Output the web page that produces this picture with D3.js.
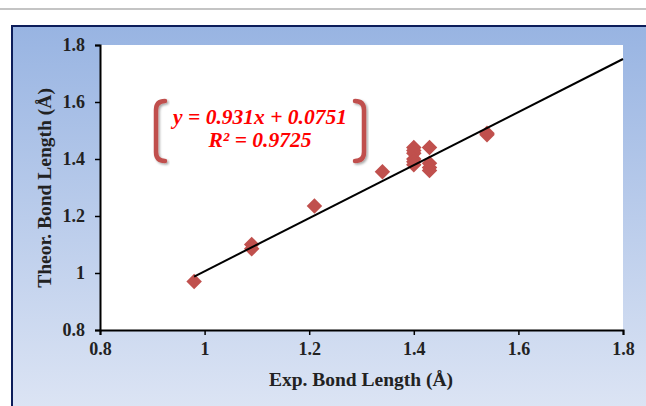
<!DOCTYPE html>
<html>
<head>
<meta charset="utf-8">
<script src="https://cdn.jsdelivr.net/npm/d3@7"></script>
<style>
body{margin:0;background:#fff;}
svg{display:block;}
.tick text{font-family:"Liberation Serif","Times New Roman",serif;font-weight:bold;font-size:18px;fill:#222;}
</style>
</head>
<body>
<div class="chart"></div>
<script>
// measured bond lengths (experimental vs theoretical)
const expLen = [0.98, 1.09, 1.09, 1.21, 1.34, 1.40, 1.40, 1.40, 1.40, 1.40, 1.40, 1.43, 1.43, 1.43, 1.43, 1.54, 1.54]
const theoLen = [0.97, 1.10, 1.085, 1.235, 1.355, 1.44, 1.43, 1.42, 1.40, 1.39, 1.38, 1.44, 1.385, 1.37, 1.36, 1.49, 1.485]
const xTicks = [0.8, 1, 1.2, 1.4, 1.6, 1.8]
const yTicks = [0.8, 1, 1.2, 1.4, 1.6, 1.8]
const slope = 0.931, intercept = 0.0751
const eqLines = ['y = 0.931x + 0.0751', 'R² = 0.9725']

const W = 646, H = 406
const plot = {left: 100, right: 623, top: 45, bottom: 330}
const serif = '"Liberation Serif","Times New Roman",serif'

const svg = d3.select('.chart').append('svg')
	.attr('width', W)
	.attr('height', H)

const defs = svg.append('defs')
const grad = defs.append('linearGradient')
	.attr('id', 'bg')
	.attr('x1', 0).attr('y1', 0).attr('x2', 0).attr('y2', 1)
grad.append('stop').attr('offset', '0%').attr('stop-color', '#98b4e2')
grad.append('stop').attr('offset', '100%').attr('stop-color', '#e0e7f5')

const shadow = defs.append('filter').attr('id', 'sh')
	.attr('x', '-50%').attr('y', '-20%').attr('width', '200%').attr('height', '140%')
shadow.append('feDropShadow')
	.attr('dx', 1.5).attr('dy', 1.5).attr('stdDeviation', 1.2)
	.attr('flood-color', '#000').attr('flood-opacity', 0.35)

// thin gray rule at top
svg.append('line')
	.attr('x1', 0).attr('x2', W).attr('y1', 9).attr('y2', 9)
	.attr('stroke', '#c4c4c4').attr('stroke-width', 2)

// chart frame
svg.append('rect')
	.attr('x', 12).attr('y', 26)
	.attr('width', W).attr('height', H)
	.attr('fill', 'url(#bg)')
	.attr('stroke', '#0c1d5a').attr('stroke-width', 2)

svg.append('rect')
	.attr('x', plot.left).attr('y', plot.top)
	.attr('width', plot.right - plot.left).attr('height', plot.bottom - plot.top)
	.attr('fill', '#fff')

const x = d3.scaleLinear().domain([0.8, 1.8]).range([plot.left, plot.right])
const y = d3.scaleLinear().domain([0.8, 1.8]).range([plot.bottom, plot.top])

const fmt = d => (d === 1 ? '1' : d3.format('.1f')(d))

svg.append('g')
	.attr('transform', `translate(0,${plot.bottom})`)
	.call(d3.axisBottom(x).tickValues(xTicks).tickFormat(fmt).tickSize(5).tickPadding(7))
	.call(g => g.select('.domain').attr('stroke', '#000').attr('stroke-width', 2))
	.call(g => g.selectAll('.tick line').attr('stroke', '#000').attr('stroke-width', 1.5))

svg.append('g')
	.attr('transform', `translate(${plot.left},0)`)
	.call(d3.axisLeft(y).tickValues(yTicks).tickFormat(fmt).tickSize(5).tickPadding(10))
	.call(g => g.select('.domain').attr('stroke', '#000').attr('stroke-width', 2))
	.call(g => g.selectAll('.tick line').attr('stroke', '#000').attr('stroke-width', 1.5))

// axis titles
svg.append('text')
	.attr('x', 361).attr('y', 386)
	.attr('text-anchor', 'middle')
	.attr('font-family', serif)
	.attr('font-weight', 'bold').attr('font-size', 19.5).attr('fill', '#222')
	.text('Exp. Bond Length (Å)')

svg.append('text')
	.attr('transform', 'translate(51,188) rotate(-90)')
	.attr('text-anchor', 'middle')
	.attr('font-family', serif)
	.attr('font-weight', 'bold').attr('font-size', 19.5).attr('fill', '#222')
	.text('Theor. Bond Length (Å)')

// points
const data = expLen.map((d, i) => ({x: d, y: theoLen[i]}))
svg.selectAll('.pt')
	.data(data)
	.enter()
	.append('path')
	.attr('class', 'pt')
	.attr('d', d3.symbol(d3.symbolSquare, 120))
	.attr('transform', d => `translate(${x(d.x)},${y(d.y)}) rotate(45)`)
	.attr('fill', '#c0504d')

// trend line
const x0 = d3.min(expLen), x1 = 1.8
svg.append('line')
	.attr('x1', x(x0)).attr('y1', y(slope * x0 + intercept))
	.attr('x2', x(x1)).attr('y2', y(slope * x1 + intercept))
	.attr('stroke', '#000').attr('stroke-width', 2)

// equation label with brackets
const eq = svg.append('g')
eq.selectAll('text')
	.data(eqLines)
	.enter()
	.append('text')
	.attr('x', 260)
	.attr('y', (d, i) => 124 + i * 23)
	.attr('text-anchor', 'middle')
	.attr('font-family', serif)
	.attr('font-weight', 'bold').attr('font-style', 'italic')
	.attr('font-size', 21.5).attr('fill', '#ff0000')
	.text(d => d)

eq.append('path')
	.attr('d', 'M165,101 Q156,101 156,110 L156,152 Q156,161 165,161')
	.attr('fill', 'none').attr('stroke', '#c0504d').attr('stroke-width', 4.5)
	.attr('stroke-linecap', 'round')
	.attr('filter', 'url(#sh)')
eq.append('path')
	.attr('d', 'M355,101 Q364,101 364,110 L364,152 Q364,161 355,161')
	.attr('fill', 'none').attr('stroke', '#c0504d').attr('stroke-width', 4.5)
	.attr('stroke-linecap', 'round')
	.attr('filter', 'url(#sh)')
</script>
</body>
</html>
